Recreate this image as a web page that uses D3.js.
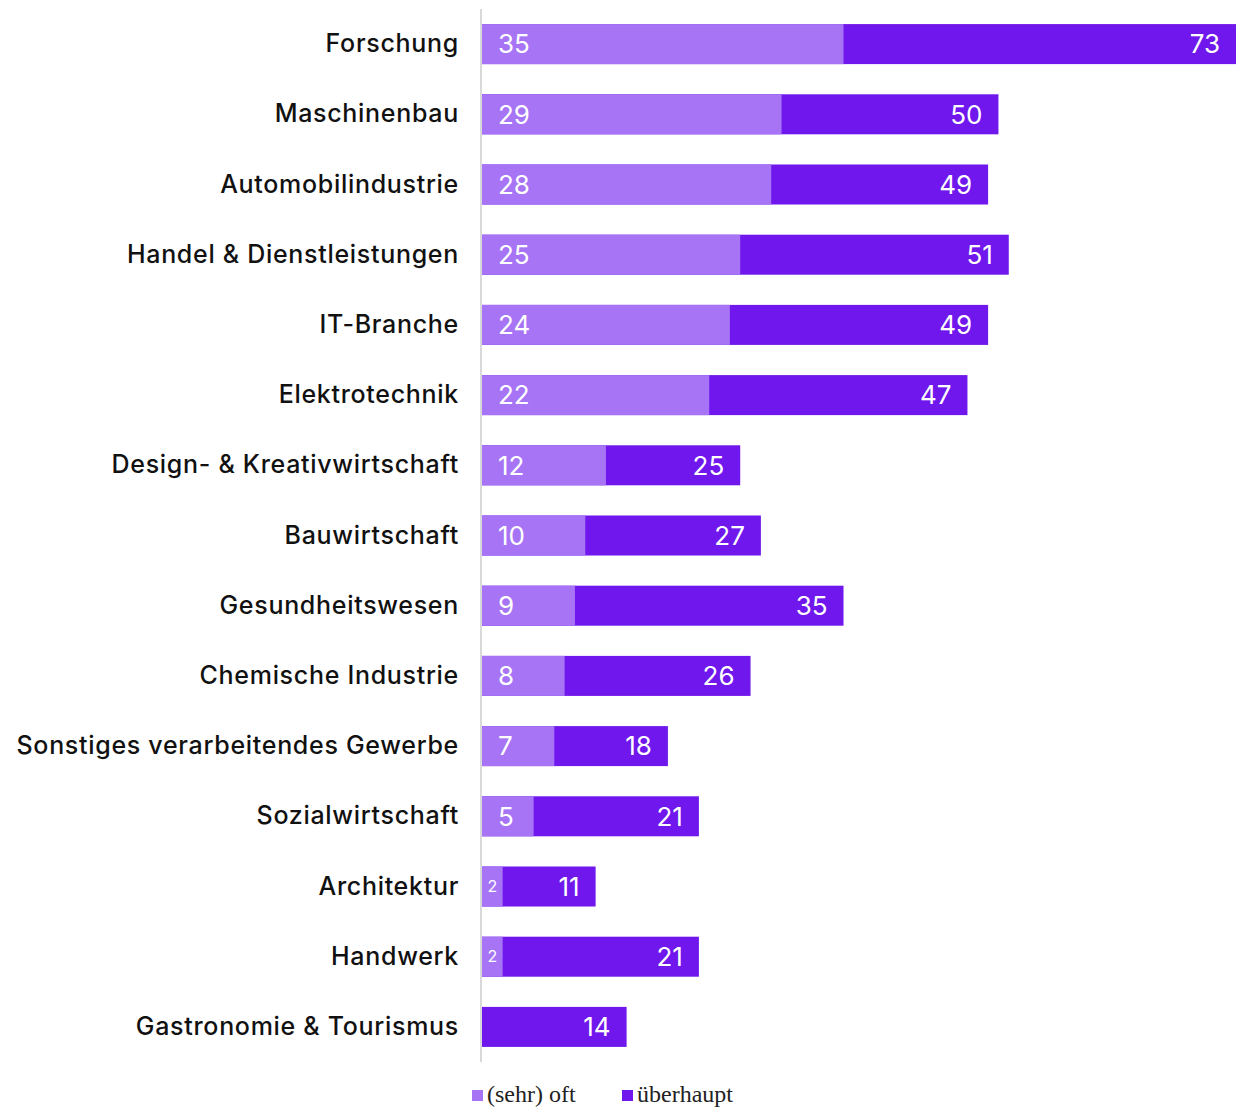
<!DOCTYPE html>
<html>
<head>
<meta charset="utf-8">
<script src="https://cdn.jsdelivr.net/npm/d3@7"></script>
<style>
  body { margin: 0; background: #fff; }
  svg { display: block; }
</style>
</head>
<body>
<svg id="chart" width="1241" height="1107"></svg>
<script>
// Branchen, sortiert wie dargestellt
const categories = [
  "Forschung", "Maschinenbau", "Automobilindustrie", "Handel & Dienstleistungen",
  "IT-Branche", "Elektrotechnik", "Design- & Kreativwirtschaft", "Bauwirtschaft",
  "Gesundheitswesen", "Chemische Industrie", "Sonstiges verarbeitendes Gewerbe",
  "Sozialwirtschaft", "Architektur", "Handwerk", "Gastronomie & Tourismus"
];
// Anteil "(sehr) oft" in %
const oftValues = [35, 29, 28, 25, 24, 22, 12, 10, 9, 8, 7, 5, 2, 2, 0];
// Anteil "überhaupt" in %
const ueberhauptValues = [73, 50, 49, 51, 49, 47, 25, 27, 35, 26, 18, 21, 11, 21, 14];
const seriesNames = ["(sehr) oft", "überhaupt"];
const colors = ["#a674f5", "#6f17ec"];

const svg = d3.select("#chart");
const margin = { left: 482, right: 5, top: 9, bottom: 45 };

const x = d3.scaleLinear().domain([0, 73]).range([margin.left, 1236]);
const y = d3.scaleBand().domain(categories)
  .range([margin.top, 1062]).paddingInner(0.43).paddingOuter(0.215);

const rows = categories.map((c, i) => ({ cat: c, oft: oftValues[i], all: ueberhauptValues[i] }));

// Balken "überhaupt" (volle Länge)
svg.append("g").selectAll("rect").data(rows).join("rect")
  .attr("x", x(0)).attr("y", d => y(d.cat))
  .attr("width", d => x(d.all) - x(0)).attr("height", y.bandwidth())
  .attr("fill", colors[1]);

// Balken "(sehr) oft" darüber
svg.append("g").selectAll("rect").data(rows.filter(d => d.oft > 0)).join("rect")
  .attr("x", x(0)).attr("y", d => y(d.cat))
  .attr("width", d => x(d.oft) - x(0)).attr("height", y.bandwidth())
  .attr("fill", colors[0]);

// Achsenlinie
svg.append("line")
  .attr("x1", margin.left - 1).attr("x2", margin.left - 1)
  .attr("y1", margin.top).attr("y2", 1062)
  .attr("stroke", "#d9d9d9").attr("stroke-width", 2);

// Kategorienbeschriftung
const yAxis = d3.axisLeft(y).tickSize(0).tickPadding(23);
const ag = svg.append("g").attr("transform", `translate(${margin.left},0)`).call(yAxis);
ag.select(".domain").remove();
ag.selectAll("text")
  .attr("font-family", "Inter, 'Noto Sans', sans-serif")
  .attr("font-size", 25).attr("font-weight", 500).attr("fill", "#111")
  .attr("letter-spacing", "0.7px");

// Werte "überhaupt" rechtsbündig im Balken
svg.append("g").selectAll("text").data(rows).join("text")
  .attr("x", d => x(d.all) - 16)
  .attr("y", d => y(d.cat) + y.bandwidth() / 2)
  .attr("dy", "0.36em").attr("text-anchor", "end")
  .attr("font-family", "Inter, 'Noto Sans', sans-serif")
  .attr("font-size", 26).attr("fill", "#fff")
  .text(d => d.all);

// Werte "(sehr) oft" linksbündig bzw. zentriert bei schmalen Balken
svg.append("g").selectAll("text").data(rows.filter(d => d.oft > 0)).join("text")
  .attr("x", d => d.oft < 5 ? (x(0) + x(d.oft)) / 2 : x(0) + 16)
  .attr("y", d => y(d.cat) + y.bandwidth() / 2)
  .attr("dy", "0.36em")
  .attr("text-anchor", d => d.oft < 5 ? "middle" : "start")
  .attr("font-family", "Inter, 'Noto Sans', sans-serif")
  .attr("font-size", d => d.oft < 5 ? 16 : 26).attr("fill", "#fff")
  .text(d => d.oft);

// Legende
const legend = svg.append("g").attr("transform", "translate(472,1102)");
const legendX = [0, 150];
seriesNames.forEach((name, i) => {
  const g = legend.append("g").attr("transform", `translate(${legendX[i]},0)`);
  g.append("rect").attr("x", 0).attr("y", -12).attr("width", 11).attr("height", 11).attr("fill", colors[i]);
  g.append("text").attr("x", 15).attr("y", 0)
    .attr("font-family", "'Liberation Serif', 'DejaVu Serif', serif")
    .attr("font-size", 24).attr("fill", "#222").text(name);
});
</script>
</body>
</html>
